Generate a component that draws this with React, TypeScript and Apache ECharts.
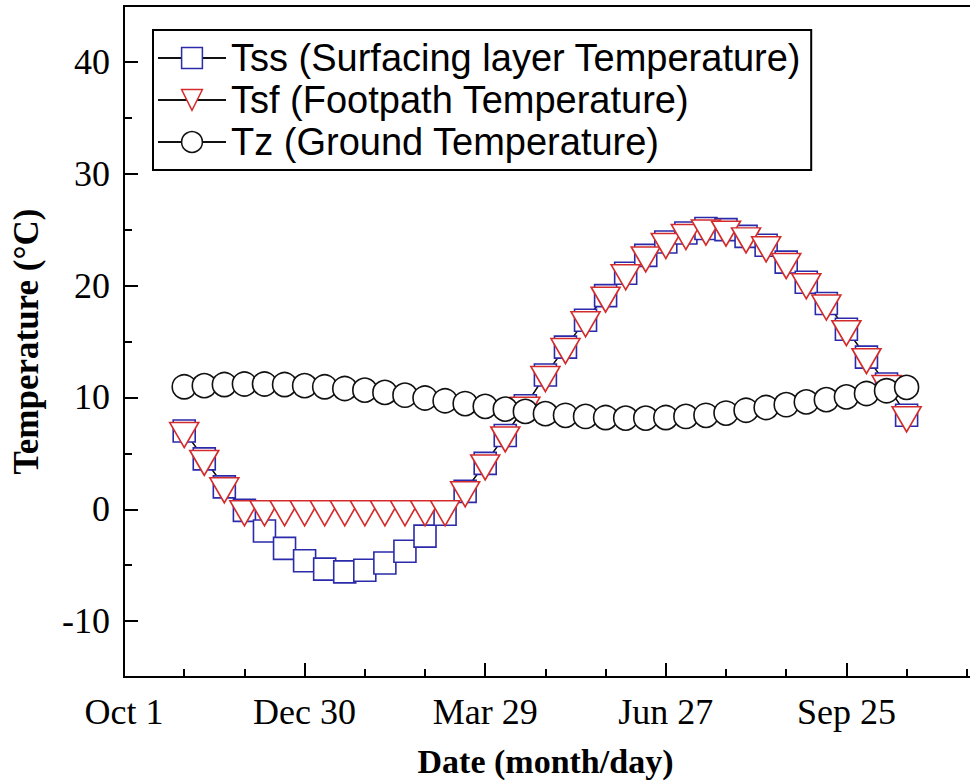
import { useEffect, useRef } from 'react';
import * as echarts from 'echarts';

// Days since Oct 1
const days = [30, 40, 50, 60, 70, 80, 90, 100, 110, 120, 130, 140, 150, 160, 170, 180, 190, 200, 210, 220, 230, 240, 250, 260, 270, 280, 290, 300, 310, 320, 330, 340, 350, 360, 370, 380, 390];

const tss = [7.0, 4.5, 2.0, -0.1, -1.95, -3.5, -4.6, -5.35, -5.6, -5.45, -4.8, -3.75, -2.4, -0.45, 1.6, 4.1, 6.6, 9.25, 12.0, 14.5, 16.9, 19.1, 21.1, 22.7, 23.9, 24.7, 25.1, 25.0, 24.4, 23.6, 22.1, 20.3, 18.4, 16.1, 13.6, 11.2, 8.4];

const tsf = [7.0, 4.5, 2.05, 0, 0, 0, 0, 0, 0, 0, 0, 0, 0, 0, 1.7, 4.1, 6.6, 9.25, 12.0, 14.5, 16.9, 19.1, 21.1, 22.7, 23.9, 24.7, 25.1, 25.0, 24.4, 23.6, 22.1, 20.3, 18.4, 16.1, 13.6, 11.2, 8.4];

const tz = [10.95, 11.05, 11.15, 11.2, 11.2, 11.15, 11.05, 10.95, 10.8, 10.65, 10.45, 10.2, 9.95, 9.7, 9.45, 9.2, 8.95, 8.75, 8.55, 8.4, 8.3, 8.2, 8.15, 8.15, 8.2, 8.3, 8.4, 8.6, 8.85, 9.1, 9.35, 9.6, 9.8, 10.05, 10.35, 10.6, 10.9];

const seriesNames = ['Tss (Surfacing layer Temperature)', 'Tsf (Footpath Temperature)', 'Tz (Ground Temperature)'];

const xTickDays = [0, 90, 180, 270, 360];
const xTickLabels = ['Oct 1', 'Dec 30', 'Mar 29', 'Jun 27', 'Sep 25'];
const yTickValues = [-10, 0, 10, 20, 30, 40];
const yMinorValues = [-5, 5, 15, 25, 35];

const SERIF = '"Liberation Serif", "Times New Roman", serif';
const SANS = '"Liberation Sans", Arial, sans-serif';

export default function App() {
  const ref = useRef<HTMLDivElement>(null);

  useEffect(() => {
    if (!ref.current) return;
    const chart = echarts.init(ref.current, null, { renderer: 'svg' });
    const gridRect = { left: 124, top: 6, right: -57, bottom: 107, containLabel: false, outerBoundsMode: 'none' };
    const pair = (vals: number[]) => days.map((d, i) => [d, vals[i]]);
    const lineStyle = { color: '#111', width: 1.2 };

    chart.setOption({
      animation: false,
      backgroundColor: '#fff',
      grid: [
        { ...gridRect, show: true, borderColor: '#000', borderWidth: 2, backgroundColor: 'transparent' },
        { ...gridRect, show: false },
      ],
      legend: {
        orient: 'vertical',
        left: 153,
        top: 30,
        padding: [9, 10, 9, 4],
        borderColor: '#000',
        borderWidth: 2,
        backgroundColor: '#fff',
        itemWidth: 68,
        itemHeight: 26,
        itemGap: 4,
        itemStyle: { borderWidth: 1.5 },
        textStyle: { fontFamily: SANS, fontSize: 38, color: '#000' },
        data: seriesNames,
      },
      xAxis: [
        {
          type: 'value',
          gridIndex: 0,
          min: 0,
          max: 450,
          interval: 90,
          axisLine: { show: true, onZero: false, lineStyle: { color: '#000', width: 2 } },
          axisTick: { show: true, inside: true, length: 14, lineStyle: { color: '#000', width: 2 } },
          minorTick: { show: true, splitNumber: 3, length: 8, lineStyle: { color: '#000', width: 2 } },
          splitLine: { show: false },
          axisLabel: {
            margin: 17,
            fontFamily: SERIF,
            fontSize: 36,
            color: '#000',
            formatter: (v: number) => {
              const i = xTickDays.indexOf(v);
              return i >= 0 ? xTickLabels[i] : '';
            },
          },
          name: 'Date (month/day)',
          nameLocation: 'middle',
          nameGap: 67,
          nameTextStyle: { fontFamily: SERIF, fontSize: 34, fontWeight: 'bold', color: '#000', padding: [0, 60, 0, 0] },
        },
        { type: 'value', gridIndex: 1, min: 0, max: 450, show: false },
      ],
      yAxis: [
        {
          type: 'value',
          gridIndex: 0,
          min: -15,
          max: 45,
          axisLine: { show: true, onZero: false, lineStyle: { color: '#000', width: 2 } },
          axisTick: { show: true, inside: true, length: 14, customValues: yTickValues, lineStyle: { color: '#000', width: 2 } },
          splitLine: { show: false },
          axisLabel: { margin: 14, fontFamily: SERIF, fontSize: 36, color: '#000', customValues: yTickValues },
          name: 'Temperature (°C)',
          nameLocation: 'middle',
          nameGap: 80,
          nameRotate: 90,
          nameTextStyle: { fontFamily: SERIF, fontSize: 35, fontWeight: 'bold', color: '#000' },
        },
        {
          type: 'value',
          gridIndex: 1,
          min: -15,
          max: 45,
          axisLine: { show: false, onZero: false },
          axisLabel: { show: false },
          splitLine: { show: false },
          axisTick: { show: true, inside: true, length: 8, customValues: yMinorValues, lineStyle: { color: '#000', width: 2 } },
        },
      ],
      series: [
        {
          name: seriesNames[0],
          type: 'line',
          xAxisIndex: 0,
          yAxisIndex: 0,
          data: pair(tss),
          symbol: 'rect',
          symbolSize: 22,
          showAllSymbol: true,
          lineStyle,
          itemStyle: { color: '#fff', borderColor: '#2a2aaa', borderWidth: 1.6 },
        },
        {
          name: seriesNames[1],
          type: 'line',
          xAxisIndex: 0,
          yAxisIndex: 0,
          data: pair(tsf),
          symbol: 'triangle',
          symbolRotate: 180,
          symbolSize: [29, 25],
          symbolOffset: [0, 4],
          showAllSymbol: true,
          lineStyle,
          itemStyle: { color: '#fff', borderColor: '#d42c2c', borderWidth: 1.6 },
        },
        {
          name: seriesNames[2],
          type: 'line',
          xAxisIndex: 0,
          yAxisIndex: 0,
          data: pair(tz),
          symbol: 'circle',
          symbolSize: 24,
          showAllSymbol: true,
          lineStyle,
          itemStyle: { color: '#fff', borderColor: '#111', borderWidth: 1.6 },
        },
      ],
    });
    return () => chart.dispose();
  }, []);

  return (
    <div
      ref={ref}
      style={{ position: 'fixed', left: 0, top: 0, width: 970, height: 784, overflow: 'hidden', background: '#fff' }}
    />
  );
}
